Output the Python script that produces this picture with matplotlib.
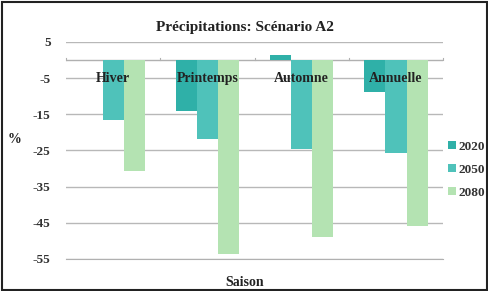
import matplotlib
matplotlib.use("Agg")
import matplotlib.pyplot as plt
import numpy as np

categories = ["Hiver", "Printemps", "Automne", "Annuelle"]
series_names = ["2020", "2050", "2080"]
v2020 = [0.0, -14.0, 1.5, -8.8]
v2050 = [-16.6, -21.8, -24.5, -25.6]
v2080 = [-30.6, -53.5, -49.0, -45.8]
colors = ["#2fb0a8", "#4fc2ba", "#b4e3b2"]
yticks = [5, -5, -15, -25, -35, -45, -55]

plt.rcParams['font.family'] = ['Liberation Serif', 'DejaVu Serif']

fig = plt.figure(figsize=(4.89, 2.91), dpi=100)
fig.patch.set_facecolor("white")
ax = fig.add_axes([0.135, 0.110, 0.771, 0.746])

x = np.arange(len(categories))
w = 0.225
for i, (vals, c, name) in enumerate(zip([v2020, v2050, v2080], colors, series_names)):
    ax.bar(x + (i - 1) * w, vals, width=w, color=c, label=name, zorder=3)

ax.set_xlim(-0.5, len(categories) - 0.5)
ax.set_ylim(-55, 5)
ax.set_yticks(yticks)
ax.set_yticklabels([str(t) for t in yticks], fontsize=9.5, fontweight="bold", color="#333333")
ax.tick_params(axis="y", length=0, pad=11)
ax.set_xticks([])
ax.grid(axis="y", color="#b8b8b8", linewidth=1.0, zorder=0)
ax.axhline(0, color="#b0b0b0", linewidth=1.0, zorder=2)
for k in range(len(categories) + 1):
    ax.plot([k - 0.5, k - 0.5], [0, 0.6], color="#b0b0b0", linewidth=0.8, zorder=2, clip_on=False)
for s in ["top", "right", "left"]:
    ax.spines[s].set_visible(False)
ax.spines["bottom"].set_color("#b0b0b0")

for k, cat in enumerate(categories):
    ax.text(k, -5, cat, ha="center", va="center", fontsize=10, fontweight="bold", color="#222222", zorder=4)

fig.text(0.5, 0.905, "Précipitations: Scénario A2", ha="center", va="center",
         fontsize=11, fontweight="bold", color="#222222")
fig.text(0.03, 0.52, "%", ha="center", va="center", fontsize=10, fontweight="bold", color="#222222")
fig.text(0.5, 0.03, "Saison", ha="center", va="center", fontsize=10, fontweight="bold", color="#222222")

leg = fig.legend(loc="upper left", bbox_to_anchor=(0.906, 0.535), frameon=False,
                 fontsize=9.5, handlelength=0.55, handleheight=0.55, handletextpad=0.2,
                 labelspacing=0.85, borderaxespad=0)
for t in leg.get_texts():
    t.set_fontweight("bold")
    t.set_color("#333333")

border = plt.Rectangle((0.004, 0.004), 0.992, 0.99, transform=fig.transFigure,
                       fill=False, edgecolor="#222222", linewidth=1.5)
fig.patches.append(border)

fig.savefig("out.png", dpi=100)
